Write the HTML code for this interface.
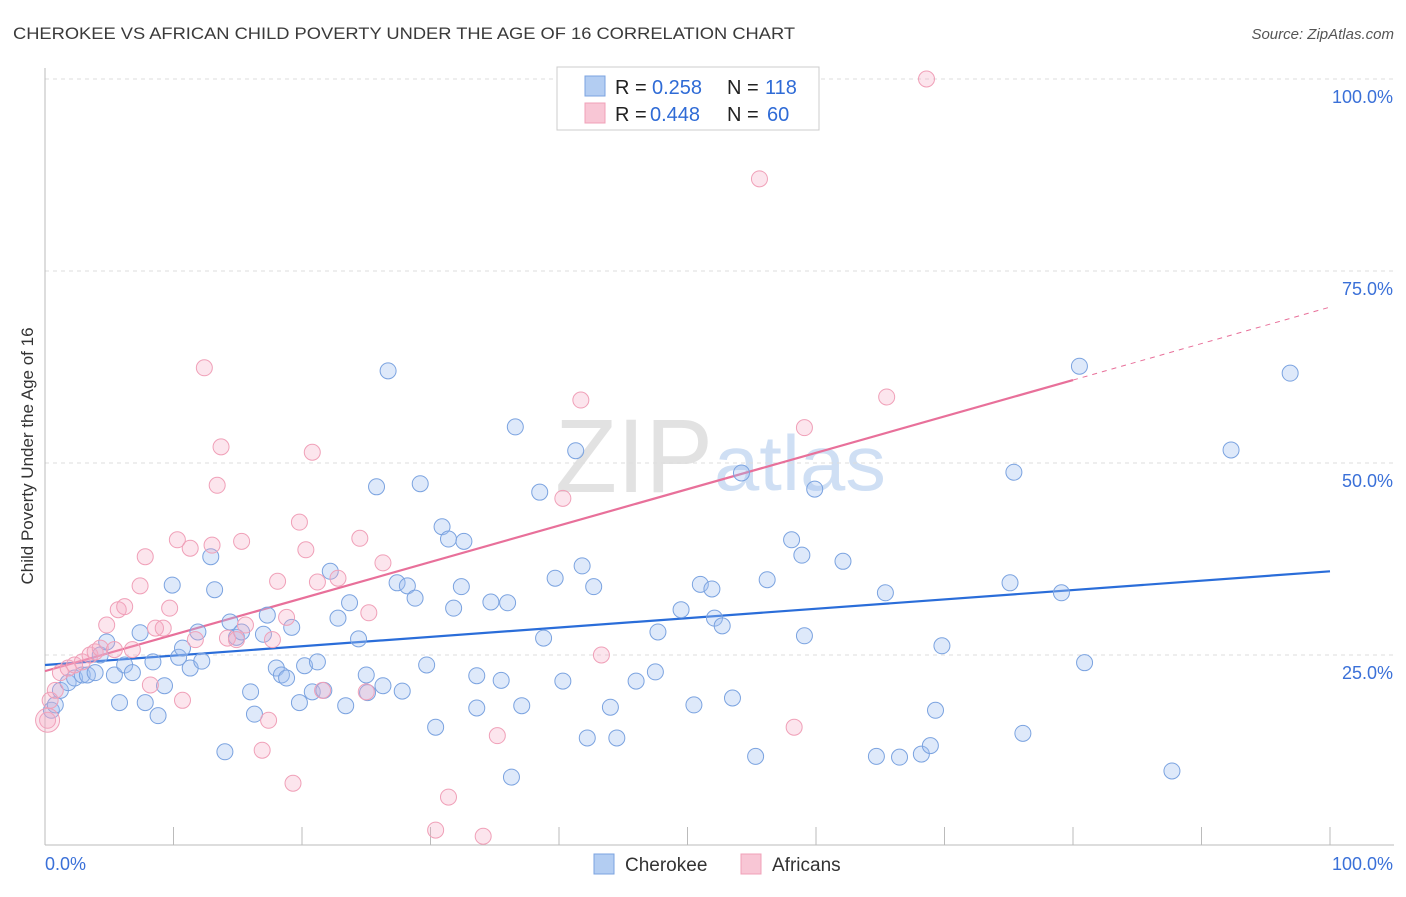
<!DOCTYPE html>
<html><head><meta charset="utf-8"><style>
body{margin:0;background:#fff;font-family:"Liberation Sans",sans-serif;}
svg text{font-family:"Liberation Sans",sans-serif;}
</style></head><body>
<svg id="chart" width="1406" height="892" xmlns="http://www.w3.org/2000/svg">
<text x="13" y="39" font-size="17" fill="#3a3a3a" textLength="782" lengthAdjust="spacingAndGlyphs">CHEROKEE VS AFRICAN CHILD POVERTY UNDER THE AGE OF 16 CORRELATION CHART</text>
<text x="1394" y="39" font-size="15" fill="#555" font-style="italic" text-anchor="end">Source: ZipAtlas.com</text>
<text transform="translate(33,456) rotate(-90)" font-size="17" fill="#333" text-anchor="middle">Child Poverty Under the Age of 16</text>
<g><text x="555" y="492" font-size="105" fill="#ccc" font-family="Liberation Serif" opacity="0.55" textLength="158" lengthAdjust="spacingAndGlyphs">ZIP</text><text x="714" y="490" font-size="78" fill="#a9c6ec" opacity="0.55" textLength="172" lengthAdjust="spacingAndGlyphs">atlas</text></g>
<g id="grid"></g><g id="axes"></g><g id="lines"></g><g id="pts"></g>
<g>
<rect x="557" y="67" width="262" height="63" fill="#fff" stroke="#ccc"/>
<rect x="585" y="76" width="20" height="20" fill="#b3cdf2" stroke="#7ba3e0"/>
<text x="615" y="94" font-size="20" fill="#222">R =</text><text x="652" y="94" font-size="20" fill="#2f6bd6">0.258</text>
<text x="727" y="94" font-size="20" fill="#222">N =</text><text x="765" y="94" font-size="20" fill="#2f6bd6">118</text>
<rect x="585" y="103" width="20" height="20" fill="#f8c6d5" stroke="#f0a0b8"/>
<text x="615" y="121" font-size="20" fill="#222">R =</text><text x="650" y="121" font-size="20" fill="#2f6bd6">0.448</text>
<text x="727" y="121" font-size="20" fill="#222">N =</text><text x="767" y="121" font-size="20" fill="#2f6bd6">60</text>
</g>
<g>
<rect x="594" y="854" width="20" height="20" fill="#b3cdf2" stroke="#7ba3e0"/>
<text x="625" y="871" font-size="19" fill="#333">Cherokee</text>
<rect x="741" y="854" width="20" height="20" fill="#f8c6d5" stroke="#f0a0b8"/>
<text x="772" y="871" font-size="19" fill="#333">Africans</text>
</g>
</svg>
<script>
const yTicks=[25,50,75,100];
const yTickLabels=["25.0%","50.0%","75.0%","100.0%"];
const xTickLabels=["0.0%","100.0%"];
const cherokeeX=[0.5,0.8,1.2,1.8,2.3,2.9,3.3,3.9,4.3,4.8,5.4,5.8,6.2,6.8,7.4,7.8,8.4,8.8,9.3,9.9,10.4,10.7,11.3,11.9,12.2,12.9,13.2,14.0,14.4,14.9,15.3,16.0,16.3,17.0,17.3,18.0,18.4,18.8,19.2,19.8,20.2,20.8,21.2,21.7,22.2,22.8,23.4,23.7,24.4,25.0,25.1,25.8,26.3,26.7,27.4,27.8,28.2,28.8,29.2,29.7,30.4,30.9,31.4,31.8,32.4,32.6,33.6,33.6,34.7,35.5,36.0,36.3,36.6,37.1,38.8,38.5,39.7,40.3,41.3,41.8,42.2,42.7,44.0,44.5,46.0,47.5,47.7,49.5,50.5,51.0,51.9,52.1,52.7,53.5,54.2,55.3,56.2,58.1,58.9,59.1,59.9,62.1,64.7,65.4,66.5,68.2,68.9,69.3,69.8,75.1,75.4,76.1,79.1,80.5,80.9,87.7,92.3,96.9];
const cherokeeY=[17.8,18.5,20.4,21.4,22.0,22.4,22.4,22.7,25.0,26.7,22.4,18.8,23.7,22.7,27.9,18.8,24.1,17.1,21.0,34.1,24.7,25.9,23.3,28.0,24.2,37.8,33.5,12.4,29.3,27.3,28.0,20.2,17.3,27.7,30.2,23.3,22.4,22.0,28.6,18.8,23.6,20.2,24.1,20.4,35.9,29.8,18.4,31.8,27.1,22.4,20.1,46.9,21.0,62.0,34.4,20.3,34.0,32.4,47.3,23.7,15.6,41.7,40.1,31.1,33.9,39.8,22.3,18.1,31.9,21.7,31.8,9.1,54.7,18.4,27.2,46.2,35.0,21.6,51.6,36.6,14.2,33.9,18.2,14.2,21.6,22.8,28.0,30.9,18.5,34.2,33.6,29.8,28.8,19.4,48.7,11.8,34.8,40.0,38.0,27.5,46.6,37.2,11.8,33.1,11.7,12.1,13.2,17.8,26.2,34.4,48.8,14.8,33.1,62.6,24.0,9.9,51.7,61.7];
const africansX=[0.2,0.4,0.8,1.2,1.8,2.3,2.9,3.5,3.9,4.3,4.8,5.4,5.7,6.2,6.8,7.4,7.8,8.2,8.6,9.2,9.7,10.3,10.7,11.3,11.7,12.4,13.0,13.4,13.7,14.2,14.9,15.3,15.6,16.9,17.4,17.7,18.1,18.8,19.3,19.8,20.3,20.8,21.2,21.6,22.8,24.5,25.0,25.2,26.3,30.4,31.4,34.1,35.2,40.3,41.7,43.3,55.6,58.3,59.1,65.5,68.6];
const africansY=[16.5,19.1,20.4,22.7,23.3,23.7,24.1,25.0,25.4,25.9,28.9,25.7,30.9,31.3,25.7,34.0,37.8,21.1,28.5,28.5,31.1,40.0,19.1,38.9,27.0,62.4,39.3,47.1,52.1,27.2,27.0,39.8,28.9,12.6,16.5,27.0,34.6,29.9,8.3,42.3,38.7,51.4,34.5,20.4,35.0,40.2,20.2,30.5,37.0,2.2,6.5,1.4,14.5,45.4,58.2,25.0,87.0,15.6,54.6,58.6,100.0];
const cherokeeFitX=[0,100], cherokeeFitY=[23.7,35.9];
const africansFitX=[0,80], africansFitY=[22.9,60.8];
const africansExtX=[80,100], africansExtY=[60.8,70.3];

const X0=45,X1=1330,Y0=847,Y1=79;
const sx=v=>X0+(X1-X0)*v/100, sy=v=>Y0-(Y0-Y1)*v/100;
const NS="http://www.w3.org/2000/svg";
function mk(tag,attrs,parent){const e=document.createElementNS(NS,tag);for(const k in attrs)e.setAttribute(k,attrs[k]);document.getElementById(parent).appendChild(e);return e;}
yTicks.forEach((t,i)=>{
 const g=mk('line',{x1:45,x2:1394,y1:sy(t),y2:sy(t),stroke:'#ddd','stroke-dasharray':'4,4'},'grid');
 
 
 const l=mk('text',{x:1393,y:sy(t)+24,'font-size':18,fill:'#3a70d8','text-anchor':'end'},'grid');
 l.textContent=yTickLabels[i];
 
 
});
const ax=mk('line',{x1:45,x2:45,y1:68,y2:845,stroke:'#bbb'},'axes');


const bx=mk('line',{x1:45,x2:1394,y1:845,y2:845,stroke:'#bbb'},'axes');


for(let i=1;i<=10;i++){const t=mk('line',{x1:sx(i*10),x2:sx(i*10),y1:827,y2:845,stroke:'#bbb'},'axes');
 
 }
[[0,'start',45],[100,'end',1393]].forEach((d,i)=>{const t=mk('text',{x:d[2],y:870,'font-size':18,fill:'#3a70d8','text-anchor':d[1]},'axes');t.textContent=xTickLabels[i];
 
 });
cherokeeX.forEach((x,i)=>{const c=mk('circle',{cx:sx(x),cy:sy(cherokeeY[i]),r:8,fill:'rgba(160,192,240,0.35)',stroke:'#7ba3e0','stroke-width':1},'pts');
 
 });
africansX.forEach((x,i)=>{const c=mk('circle',{cx:sx(x),cy:sy(africansY[i]),r:8,fill:'rgba(245,170,195,0.3)',stroke:'#f0a0b8','stroke-width':1},'pts');
 
 });
const big=mk('circle',{cx:sx(africansX[0]),cy:sy(africansY[0]),r:12,fill:'rgba(245,170,195,0.3)',stroke:'#f0a0b8'},'pts');


const l1=mk('line',{x1:sx(cherokeeFitX[0]),y1:sy(cherokeeFitY[0]),x2:sx(cherokeeFitX[1]),y2:sy(cherokeeFitY[1]),stroke:'#2a6dd9','stroke-width':2.2},'lines');


const l2=mk('line',{x1:sx(africansFitX[0]),y1:sy(africansFitY[0]),x2:sx(africansFitX[1]),y2:sy(africansFitY[1]),stroke:'#e8709a','stroke-width':2.2},'lines');


const l3=mk('line',{x1:sx(africansExtX[0]),y1:sy(africansExtY[0]),x2:sx(africansExtX[1]),y2:sy(africansExtY[1]),stroke:'#e8709a','stroke-width':1,'stroke-dasharray':'5,5'},'lines');


</script>
</body></html>
